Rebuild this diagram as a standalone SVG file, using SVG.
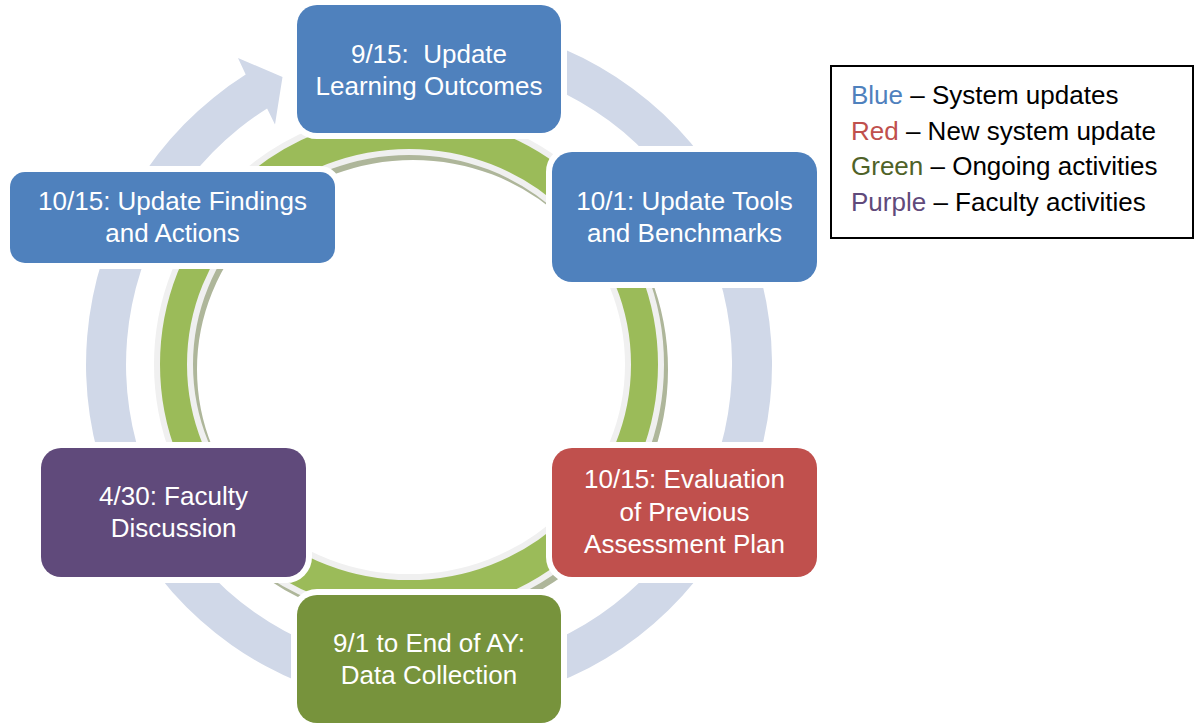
<svg xmlns="http://www.w3.org/2000/svg" xmlns:xlink="http://www.w3.org/1999/xlink" width="1195" height="725" viewBox="0 0 1195 725">
  <style>
    .box { stroke: #ffffff; stroke-width: 12; paint-order: stroke; }
    .blue { fill: #4F81BD; }
    .red { fill: #C0504D; }
    .green { fill: #77933C; }
    .purple { fill: #604A7B; }
    .lbl { font-family: "Liberation Sans", Arial, sans-serif; font-size: 26px; fill: #ffffff; text-anchor: middle; }
    .leg { font-family: "Liberation Sans", Arial, sans-serif; font-size: 26px; fill: #000000; }
  </style>
  <defs>
    <path id="gring" fill-rule="evenodd" d="M 157 364.5 A 252 252 0 1 0 661 364.5 A 252 252 0 1 0 157 364.5 Z M 190 364.5 A 219 212.5 0 1 1 628 364.5 A 219 212.5 0 1 1 190 364.5 Z"/>
  </defs>
  <rect width="1195" height="725" fill="#ffffff"/>

  <g id="connectors">
    <!-- large circular arrow -->
    <path fill="#D0D8E8" d="M 245.7 74.6 A 343 343 0 1 0 488.5 26.7 L 481.6 66.1 A 303 303 0 1 1 267.1 108.4 L 275 124.5 L 282.5 77 L 238 58 Z"/>
    <!-- inner green ring with shadow and light outline -->
    <use xlink:href="#gring" href="#gring" transform="translate(4,5)" fill="#AEB69A" stroke="#AEB69A" stroke-width="6"/>
    <use xlink:href="#gring" href="#gring" fill="#9BBB59" stroke="#F0F0F0" stroke-width="6"/>
  </g>

  <g id="node-learning-outcomes">
    <rect class="box blue" x="297" y="5" width="264" height="128" rx="20"/>
    <text class="lbl" xml:space="preserve"><tspan x="429" y="63">9/15:  Update</tspan><tspan x="429" y="95">Learning Outcomes</tspan></text>
  </g>

  <g id="node-tools-benchmarks">
    <rect class="box blue" x="552" y="152" width="265" height="130" rx="20"/>
    <text class="lbl"><tspan x="684.5" y="210">10/1: Update Tools</tspan><tspan x="684.5" y="242">and Benchmarks</tspan></text>
  </g>

  <g id="node-evaluation">
    <rect class="box red" x="552" y="448" width="265" height="129" rx="20"/>
    <text class="lbl"><tspan x="684.5" y="488">10/15: Evaluation</tspan><tspan x="684.5" y="520.5">of Previous</tspan><tspan x="684.5" y="553">Assessment Plan</tspan></text>
  </g>

  <g id="node-data-collection">
    <rect class="box green" x="297" y="595" width="264" height="128" rx="20"/>
    <text class="lbl"><tspan x="429" y="652">9/1 to End of AY:</tspan><tspan x="429" y="684">Data Collection</tspan></text>
  </g>

  <g id="node-faculty-discussion">
    <rect class="box purple" x="41" y="448" width="265" height="129" rx="20"/>
    <text class="lbl"><tspan x="173.5" y="505">4/30: Faculty</tspan><tspan x="173.5" y="537">Discussion</tspan></text>
  </g>

  <g id="node-findings-actions">
    <rect class="box blue" x="10" y="172" width="325" height="91" rx="15"/>
    <text class="lbl"><tspan x="172.5" y="210">10/15: Update Findings</tspan><tspan x="172.5" y="242">and Actions</tspan></text>
  </g>

  <g id="legend">
    <rect x="831" y="66" width="362" height="172" fill="#ffffff" stroke="#000000" stroke-width="2"/>
    <text class="leg" x="851" y="104"><tspan fill="#4F81BD">Blue</tspan> – System updates</text>
    <text class="leg" x="851" y="139.5"><tspan fill="#C0504D">Red</tspan> – New system update</text>
    <text class="leg" x="851" y="175"><tspan fill="#4F6228">Green</tspan> – Ongoing activities</text>
    <text class="leg" x="851" y="210.5"><tspan fill="#604A7B">Purple</tspan> – Faculty activities</text>
  </g>
</svg>
